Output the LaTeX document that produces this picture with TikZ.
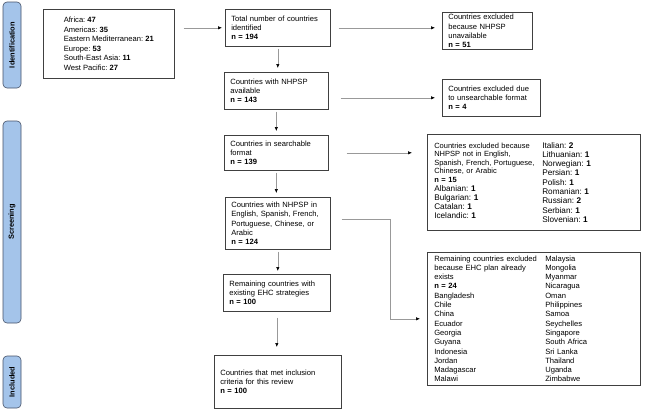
\documentclass[tikz,border=0pt]{standalone}
\usepackage{fontspec}
\setmainfont{Liberation Sans}
\usetikzlibrary{arrows.meta}
\definecolor{barfill}{RGB}{164,196,234}
\definecolor{barline}{RGB}{70,82,104}
\frenchspacing

\begin{document}
\begin{tikzpicture}[
            x=1pt, y=-1pt,
            flowbox/.style = {rectangle, draw=black!75, line width=0.6pt, anchor=north west, align=left, inner xsep=6pt, inner ysep=2pt, font=\fontsize{7.6}{9.3}\selectfont},
            phasebar/.style = {rectangle, rounded corners=4pt, draw=barline, line width=0.6pt, fill=barfill, rotate=90, minimum height=18pt, inner sep=0pt, font=\fontsize{7.4}{8}\selectfont\bfseries},
            flowarrow/.style = {draw=black!40, line width=0.6pt, -{Latex[length=4pt, width=3.5pt, color=black]}}
        ]

        \useasboundingbox (0,0) rectangle (666,410);

        % phase bars
        \node[phasebar, minimum width=86pt] (ident) at (12,45) {Identification};
        \node[phasebar, minimum width=202pt] (screen) at (12,222) {Screening};
        \node[phasebar, minimum width=52pt] (incl-bar) at (12,382) {Included};

        % main column
        \node[flowbox, minimum width=131pt, minimum height=69pt, font=\fontsize{7.6}{9.6}\selectfont] (region) at (43,9)
            {Africa: \textbf{47}\\ Americas: \textbf{35}\\ Eastern Mediterranean: \textbf{21}\\ Europe: \textbf{53}\\ South-East Asia: \textbf{11}\\ West Pacific: \textbf{27}};
        \node[flowbox, text width=93pt, minimum height=37pt] (total) at (225,9)
            {Total number of countries\\ identified\\ \textbf{n = 194}};
        \node[flowbox, text width=92pt, minimum height=37pt] (avail) at (224,72)
            {Countries with NHPSP\\ available\\ \textbf{n = 143}};
        \node[flowbox, text width=92pt, minimum height=35pt] (search) at (224,135)
            {Countries in searchable\\ format\\ \textbf{n = 139}};
        \node[flowbox, text width=93pt, minimum height=52pt] (lang) at (225,197)
            {Countries with NHPSP in\\ English, Spanish, French,\\ Portuguese, Chinese, or\\ Arabic\\ \textbf{n = 124}};
        \node[flowbox, text width=95pt, minimum height=37pt] (ehc) at (223,274)
            {Remaining countries with\\ existing EHC strategies\\ \textbf{n = 100}};
        \node[flowbox, text width=115pt, minimum height=53pt] (incl) at (214,355)
            {Countries that met inclusion\\ criteria for this review\\ \textbf{n = 100}};

        % exclusions
        \node[flowbox, text width=78pt, minimum height=37pt] (exnh) at (442,12)
            {Countries excluded\\ because NHPSP\\ unavailable\\ \textbf{n = 51}};
        \node[flowbox, text width=86pt, minimum height=37pt] (exfmt) at (442,79)
            {Countries excluded due\\ to unsearchable format\\ \textbf{n = 4}};
        \node[flowbox, text width=199pt, inner xsep=7pt, minimum height=96pt] (exlang) at (427,134)
            {\begin{minipage}[t]{108pt}
                {\fontsize{7.5}{8.6}\selectfont Countries excluded because\\ NHPSP not in English,\\ Spanish, French, Portuguese,\\ Chinese, or Arabic\\ \textbf{n = 15}\par}
                {\fontsize{8.2}{9.1}\selectfont Albanian: \textbf{1}\\ Bulgarian: \textbf{1}\\ Catalan: \textbf{1}\\ Icelandic: \textbf{1}\par}
             \end{minipage}%
             \begin{minipage}[t]{91pt}
                {\fontsize{8.2}{9.3}\selectfont Italian: \textbf{2}\\ Lithuanian: \textbf{1}\\ Norwegian: \textbf{1}\\ Persian: \textbf{1}\\ Polish: \textbf{1}\\ Romanian: \textbf{1}\\ Russian: \textbf{2}\\ Serbian: \textbf{1}\\ Slovenian: \textbf{1}\par}
             \end{minipage}};
        \node[flowbox, text width=199pt, inner xsep=7pt, minimum height=133pt] (exehc) at (427,252)
            {\begin{minipage}[t]{111pt}
                {\fontsize{7.6}{9.3}\selectfont Remaining countries excluded\\ because EHC plan already\\ exists\\ \textbf{n = 24}\\ Bangladesh\\ Chile\\ China\\ Ecuador\\ Georgia\\ Guyana\\ Indonesia\\ Jordan\\ Madagascar\\ Malawi\par}
             \end{minipage}%
             \begin{minipage}[t]{88pt}
                {\fontsize{7.6}{9.3}\selectfont Malaysia\\ Mongolia\\ Myanmar\\ Nicaragua\\ Oman\\ Philippines\\ Samoa\\ Seychelles\\ Singapore\\ South Africa\\ Sri Lanka\\ Thailand\\ Uganda\\ Zimbabwe\par}
             \end{minipage}};

        % connectors
        \draw[flowarrow, shorten <=9pt, shorten >=3pt] (region.east |- total.west) -- (total.west);
        \draw[flowarrow, shorten <=8pt, shorten >=7pt] (total.east) -- (total.east -| exnh.west);
        \draw[flowarrow, shorten <=12pt, shorten >=7pt] (avail.east |- exfmt.west) -- (exfmt.west);
        \draw[flowarrow, shorten <=18pt, shorten >=15pt] (search.east) -- (search.east -| exlang.west);
        \draw[flowarrow, shorten <=11pt, shorten >=7pt] ([yshift=4pt]lang.east) -- ++(60,0) |- (exehc.west);

        \draw[flowarrow, shorten <=2pt, shorten >=4pt] (total.south) -- (total.south |- avail.north);
        \draw[flowarrow, shorten <=2pt, shorten >=4pt] (avail.south) -- (avail.south |- search.north);
        \draw[flowarrow, shorten <=2pt, shorten >=4pt] (search.south) -- (search.south |- lang.north);
        \draw[flowarrow, shorten <=2pt, shorten >=3pt] (lang.south) -- (lang.south |- ehc.north);
        \draw[flowarrow, shorten <=6pt, shorten >=8pt] (ehc.south) -- (ehc.south |- incl.north);

    \end{tikzpicture}
\end{document}
